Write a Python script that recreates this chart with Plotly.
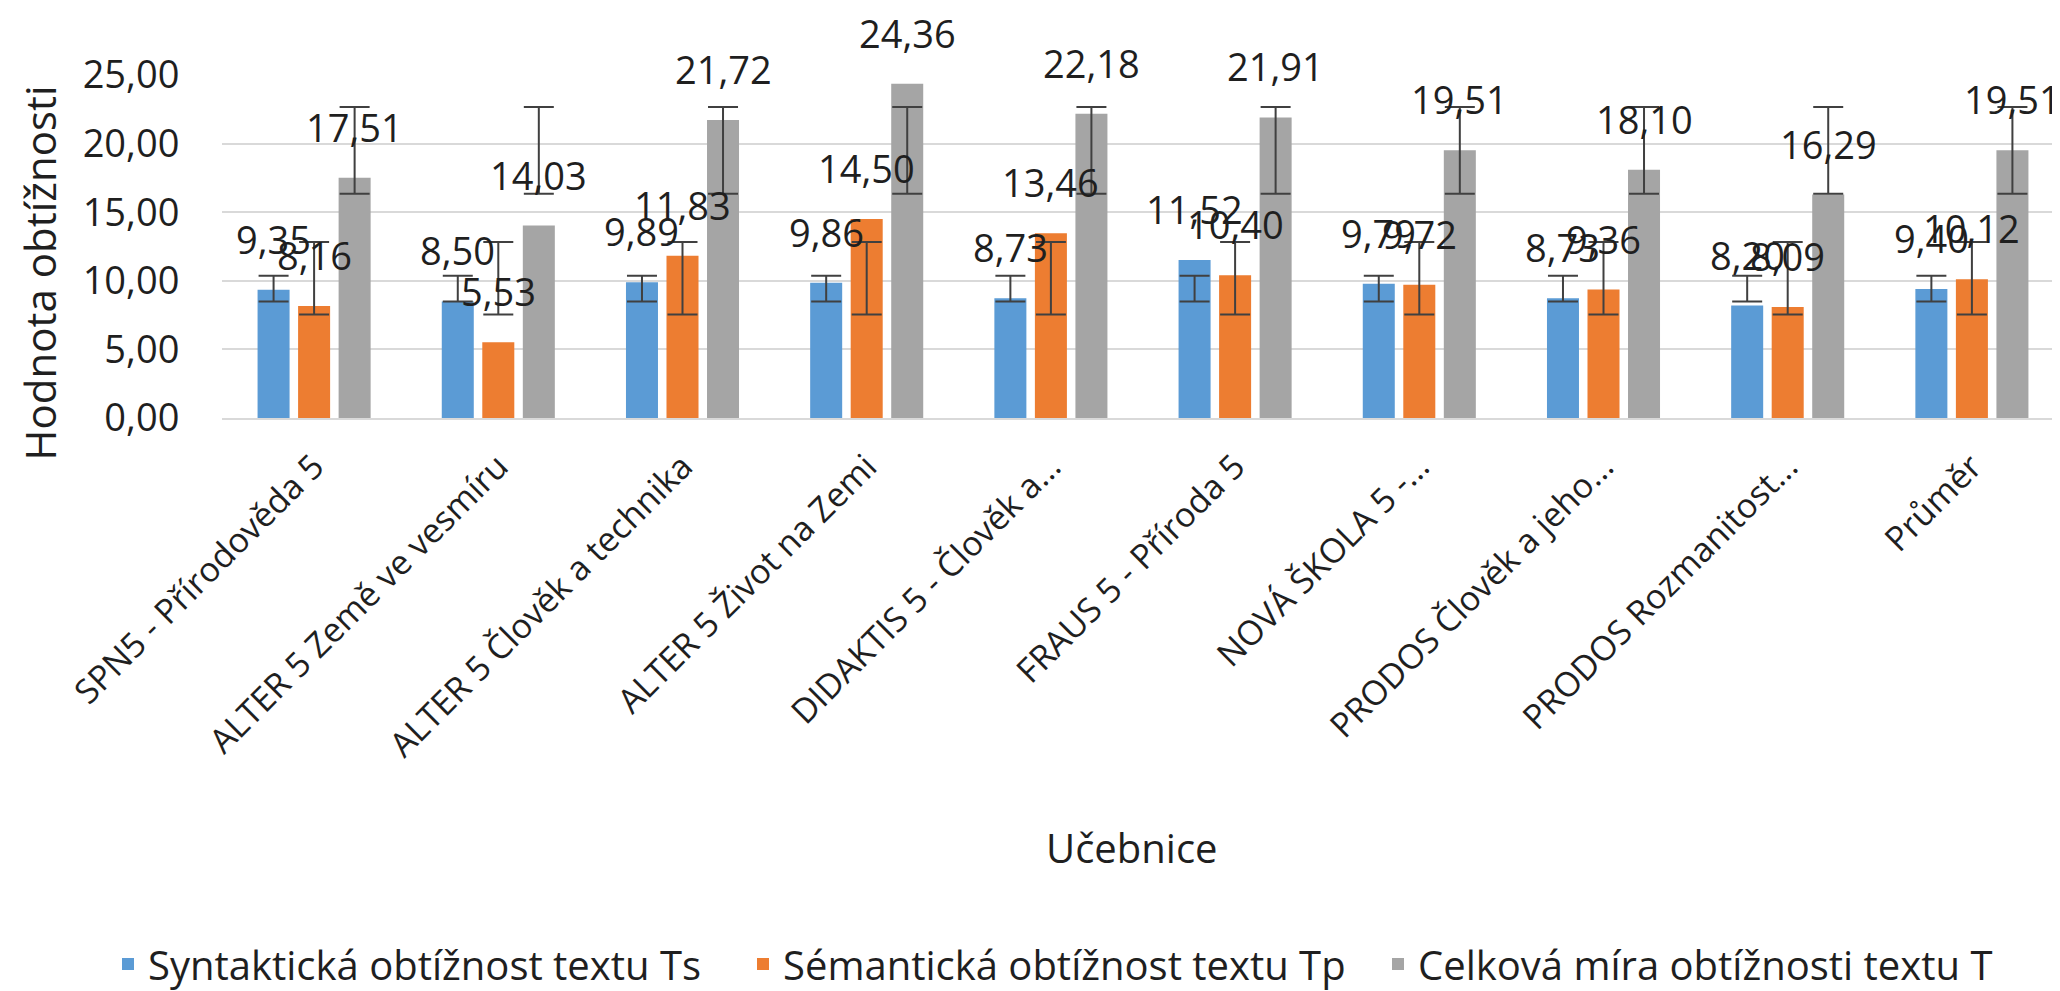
import plotly.graph_objects as go

# ---------------- data ----------------
categories = [
    "SPN5 - Přírodověda 5",
    "ALTER 5 Země ve vesmíru",
    "ALTER 5 Člověk a technika",
    "ALTER 5 Život na Zemi",
    "DIDAKTIS 5 - Člověk a...",
    "FRAUS 5 - Příroda 5",
    "NOVÁ ŠKOLA 5 -...",
    "PRODOS Člověk a jeho...",
    "PRODOS Rozmanitost...",
    "Průměr",
]
ts_values = [9.35, 8.50, 9.89, 9.86, 8.73, 11.52, 9.79, 8.73, 8.20, 9.40]
tp_values = [8.16, 5.53, 11.83, 14.50, 13.46, 10.40, 9.72, 9.36, 8.09, 10.12]
t_values = [17.51, 14.03, 21.72, 24.36, 22.18, 21.91, 19.51, 18.10, 16.29, 19.51]
series_names = [
    "Syntaktická obtížnost textu Ts",
    "Sémantická obtížnost textu Tp",
    "Celková míra obtížnosti textu T",
]
# Excel "standard deviation" error bars: drawn around each series' mean
err_center = [9.43, 10.18, 19.50]
err_half = [0.93, 2.64, 3.16]
y_ticks = [0, 5, 10, 15, 20, 25]

# ---------------- style ----------------
colors = ["#5B9BD5", "#ED7D31", "#A5A5A5"]
FONT = "Open Sans"
TXT = "#1F1F1F"
W, H = 2060, 991
ML, MR, MT, MB = 214, 4, 67, 580
BARGAP, GROUPGAP = 0.34, 0.21

series_values = [ts_values, tp_values, t_values]
idx = list(range(len(categories)))
slot = (1 - BARGAP) / len(series_values)
offsets = [(k - (len(series_values) - 1) / 2) * slot for k in range(len(series_values))]

fig = go.Figure()

for k, (name, vals) in enumerate(zip(series_names, series_values)):
    fig.add_trace(go.Bar(
        x=idx, y=vals, name=name,
        marker=dict(color=colors[k], line=dict(width=0)),
    ))

for k, vals in enumerate(series_values):
    fig.add_trace(go.Scatter(
        x=[i + offsets[k] for i in idx],
        y=[err_center[k]] * len(idx),
        mode="markers",
        marker=dict(size=1, color="rgba(0,0,0,0)"),
        error_y=dict(type="constant", value=err_half[k], color="#404040",
                     thickness=2, width=15),
        showlegend=False, hoverinfo="skip",
    ))

annotations = []
for k, vals in enumerate(series_values):
    for i, v in zip(idx, vals):
        annotations.append(dict(
            x=i + offsets[k], y=v, xref="x", yref="y",
            text=f"{v:.2f}".replace(".", ","),
            showarrow=False, yanchor="bottom", xanchor="center", yshift=24,
            borderpad=0,
            font=dict(family=FONT, size=38, color=TXT),
        ))

plot_w = W - ML - MR
plot_h = H - MT - MB
annotations.append(dict(
    text="Hodnota obtížnosti", textangle=-90, showarrow=False,
    xref="paper", yref="paper",
    x=(31 - ML) / plot_w, y=(H - MB - 266) / plot_h,
    xanchor="center", yanchor="middle",
    font=dict(family=FONT, size=42, color=TXT),
))
annotations.append(dict(
    text="Učebnice", showarrow=False,
    xref="paper", yref="paper",
    x=(1124 - ML) / plot_w, y=(H - MB - 842) / plot_h,
    xanchor="center", yanchor="middle",
    font=dict(family=FONT, size=40, color=TXT),
))

fig.update_layout(
    width=W, height=H,
    margin=dict(l=ML, r=MR, t=MT, b=MB, pad=0),
    paper_bgcolor="white", plot_bgcolor="white",
    barmode="group", bargap=BARGAP, bargroupgap=GROUPGAP,
    separators=", ",
    font=dict(family=FONT, color=TXT),
    showlegend=True,
    legend=dict(
        orientation="h", x=(100 - ML) / plot_w, xanchor="left",
        y=(H - MB - 956) / plot_h, yanchor="middle",
        font=dict(family=FONT, size=40, color=TXT),
        entrywidth=590, entrywidthmode="pixels",
        bgcolor="rgba(0,0,0,0)", traceorder="normal",
    ),
    annotations=annotations,
    xaxis=dict(
        range=[-0.5, len(categories) - 0.5],
        tickmode="array", tickvals=idx, ticktext=categories,
        tickangle=-45, tickfont=dict(family=FONT, size=34, color=TXT),
        ticks="outside", ticklen=13, tickcolor="rgba(0,0,0,0)",
        showline=True, linecolor="#D9D9D9", linewidth=2,
        showgrid=False, zeroline=False, fixedrange=True,
    ),
    yaxis=dict(
        range=[0, 25], tickmode="array", tickvals=y_ticks, tickformat=".2f",
        tickfont=dict(family=FONT, size=38, color=TXT),
        ticks="outside", ticklen=34, tickcolor="rgba(0,0,0,0)",
        showgrid=True, gridcolor="#D9D9D9", gridwidth=2,
        zeroline=False, showline=False, fixedrange=True,
    ),
)

fig.write_html("out.html")
